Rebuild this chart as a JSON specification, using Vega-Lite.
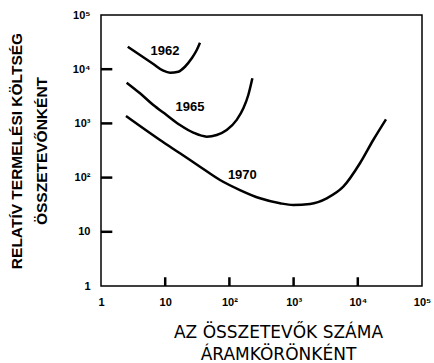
{
  "$schema": "https://vega.github.io/schema/vega-lite/v6.json",
  "autosize": {"type": "none"},
  "width": 321,
  "height": 271,
  "padding": {"left": 101, "top": 15, "right": 12, "bottom": 77},
  "background": "white",
  "config": {
    "view": {"stroke": "black", "strokeWidth": 1.5},
    "font": "Liberation Sans"
  },
  "datasets": {
    "curves": [
      {"yr": "1962", "n": 2.61, "c": 26000},
      {"yr": "1962", "n": 4.05, "c": 18300},
      {"yr": "1962", "n": 6.53, "c": 12500},
      {"yr": "1962", "n": 9.33, "c": 9380},
      {"yr": "1962", "n": 11.9, "c": 8610},
      {"yr": "1962", "n": 16.0, "c": 9000},
      {"yr": "1962", "n": 20.3, "c": 11100},
      {"yr": "1962", "n": 25.9, "c": 15900},
      {"yr": "1962", "n": 31.0, "c": 22600},
      {"yr": "1962", "n": 34.8, "c": 30800},
      {"yr": "1965", "n": 2.51, "c": 5640},
      {"yr": "1965", "n": 4.05, "c": 3590},
      {"yr": "1965", "n": 6.53, "c": 2180},
      {"yr": "1965", "n": 10.5, "c": 1430},
      {"yr": "1965", "n": 17.0, "c": 933},
      {"yr": "1965", "n": 27.4, "c": 675},
      {"yr": "1965", "n": 44.3, "c": 569},
      {"yr": "1965", "n": 63.4, "c": 611},
      {"yr": "1965", "n": 90.8, "c": 755},
      {"yr": "1965", "n": 130, "c": 1160},
      {"yr": "1965", "n": 165, "c": 1900},
      {"yr": "1965", "n": 197, "c": 3340},
      {"yr": "1965", "n": 228, "c": 6790},
      {"yr": "1970", "n": 2.45, "c": 1370},
      {"yr": "1970", "n": 4.05, "c": 895},
      {"yr": "1970", "n": 8.3, "c": 494},
      {"yr": "1970", "n": 17.0, "c": 281},
      {"yr": "1970", "n": 34.8, "c": 159},
      {"yr": "1970", "n": 71.4, "c": 90.4},
      {"yr": "1970", "n": 146, "c": 59.0},
      {"yr": "1970", "n": 300, "c": 41.5},
      {"yr": "1970", "n": 614, "c": 33.6},
      {"yr": "1970", "n": 989, "c": 31.2},
      {"yr": "1970", "n": 1800, "c": 32.6},
      {"yr": "1970", "n": 3280, "c": 41.5},
      {"yr": "1970", "n": 5940, "c": 67.9},
      {"yr": "1970", "n": 10800, "c": 184},
      {"yr": "1970", "n": 17400, "c": 494},
      {"yr": "1970", "n": 27500, "c": 1190}
    ],
    "labels": [
      {"yr": "1962", "n": 9.9, "c": 21900},
      {"yr": "1965", "n": 24.3, "c": 1980},
      {"yr": "1970", "n": 159, "c": 112}
    ],
    "xticks": [{"t": 10}, {"t": 100}, {"t": 1000}, {"t": 10000}],
    "yticks": [{"t": 10}, {"t": 100}, {"t": 1000}, {"t": 10000}]
  },
  "layer": [
    {
      "data": {"name": "curves"},
      "mark": {"type": "line", "color": "black", "strokeWidth": 2.5, "interpolate": "monotone"},
      "encoding": {
        "x": {
          "field": "n", "type": "quantitative",
          "scale": {"type": "log", "domain": [1, 100000]},
          "axis": {
            "values": [1, 10, 100, 1000, 10000, 100000],
            "labelExpr": "datum.value == 1 ? '1' : datum.value == 10 ? '10' : datum.value == 100 ? '10²' : datum.value == 1000 ? '10³' : datum.value == 10000 ? '10⁴' : '10⁵'",
            "domain": false, "grid": false, "ticks": false, "tickSize": 0,
            "labelPadding": 10, "labelFont": "Liberation Sans", "labelFontWeight": "bold", "labelFontSize": 11, "labelColor": "black",
            "labelFlush": false, "labelOverlap": false,
            "title": ["AZ ÖSSZETEVŐK SZÁMA", "ÁRAMKÖRÖNKÉNT"],
            "titleFont": "DejaVu Sans", "titleFontWeight": "normal", "titleFontSize": 17, "titleColor": "black",
            "titleLineHeight": 22, "titlePadding": 17, "titleX": 177
          }
        },
        "y": {
          "field": "c", "type": "quantitative",
          "scale": {"type": "log", "domain": [1, 100000]},
          "axis": {
            "values": [1, 10, 100, 1000, 10000, 100000],
            "labelExpr": "datum.value == 1 ? '1' : datum.value == 10 ? '10' : datum.value == 100 ? '10²' : datum.value == 1000 ? '10³' : datum.value == 10000 ? '10⁴' : '10⁵'",
            "domain": false, "grid": false, "ticks": false, "tickSize": 0,
            "labelPadding": 11, "labelFont": "Liberation Sans", "labelFontWeight": "bold", "labelFontSize": 11, "labelColor": "black",
            "labelFlush": false, "labelOverlap": false,
            "title": ["RELATÍV TERMELÉSI KÖLTSÉG", "ÖSSZETEVŐNKÉNT"],
            "titleFont": "Liberation Sans", "titleFontWeight": "bold", "titleFontSize": 15.5, "titleColor": "black",
            "titleLineHeight": 25, "titlePadding": 23
          }
        },
        "detail": {"field": "yr"}
      }
    },
    {
      "data": {"name": "xticks"},
      "mark": {"type": "rule", "color": "black", "strokeWidth": 2.5},
      "encoding": {
        "x": {"field": "t", "type": "quantitative"},
        "y": {"datum": 1},
        "y2": {"datum": 1.45}
      }
    },
    {
      "data": {"name": "yticks"},
      "mark": {"type": "rule", "color": "black", "strokeWidth": 2.5},
      "encoding": {
        "y": {"field": "t", "type": "quantitative"},
        "x": {"datum": 1},
        "x2": {"datum": 1.5}
      }
    },
    {
      "data": {"name": "labels"},
      "mark": {"type": "text", "font": "Liberation Sans", "fontWeight": "bold", "fontSize": 13, "color": "black"},
      "encoding": {
        "x": {"field": "n", "type": "quantitative"},
        "y": {"field": "c", "type": "quantitative"},
        "text": {"field": "yr"}
      }
    }
  ]
}
